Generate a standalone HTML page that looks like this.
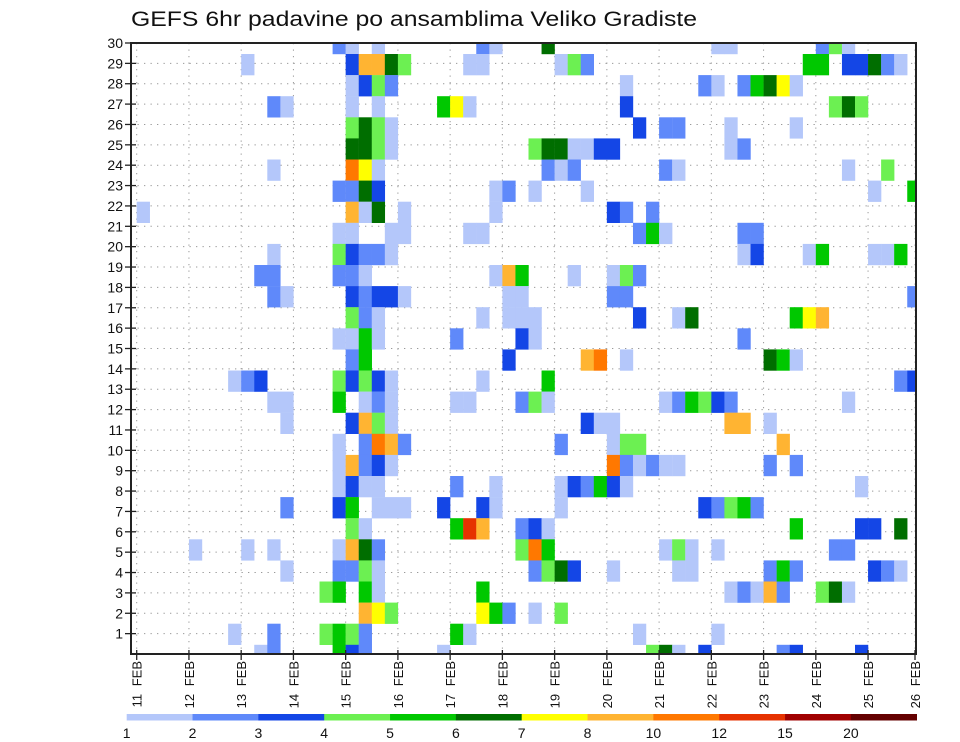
<!DOCTYPE html>
<html><head><meta charset="utf-8"><title>GEFS 6hr padavine</title>
<style>
html,body{margin:0;padding:0;background:#fff;}
svg{display:block;font-family:"Liberation Sans","DejaVu Sans",sans-serif;}
</style></head>
<body>
<svg id="chart" width="960" height="742" viewBox="0 0 960 742">
  <defs><clipPath id="plotClip"><rect x="131" y="43" width="785" height="611"/></clipPath></defs>
  <text x="131" y="26" font-size="21" textLength="566" lengthAdjust="spacingAndGlyphs" fill="#111">GEFS 6hr padavine po ansamblima Veliko Gradiste</text>
  <g id="grid"></g>
  <g id="cells" clip-path="url(#plotClip)"></g>
  <rect x="131" y="43" width="785" height="611" fill="none" stroke="#222" stroke-width="2"/>
  <g id="yaxis"></g>
  <g id="xaxis"></g>
  <g id="colorbar"></g>
</svg>
<script>
const dayLabels = ["11","12","13","14","15","16","17","18","19","20","21","22","23","24","25","26"];
const memberTicks = [1,2,3,4,5,6,7,8,9,10,11,12,13,14,15,16,17,18,19,20,21,22,23,24,25,26,27,28,29,30];
const levels = [1,2,3,4,5,6,7,8,10,12,15,20];
const levelColors = ["#b4c7fa","#5f89fa","#1446e6","#6cf052","#00c800","#006e00","#ffff00","#ffb432","#ff7800","#e63200","#a00000","#640000"];
const memberCells = [
"15:2 16:1 18:1 26:2 27:1 31:6 44:1 45:1 52:2 53:4 54:1",
"8:1 16:3 17:8 18:8 19:6 20:4 25:1 26:1 32:1 33:4 34:2 51:5 52:5 54:3 55:3 56:6 57:2 58:1",
"16:1 17:3 18:4 19:2 37:1 43:2 44:1 46:2 47:5 48:6 49:7 50:1",
"10:2 11:1 16:1 18:1 23:5 24:7 25:1 37:3 53:4 54:6 55:4",
"16:4 17:6 18:4 19:1 38:3 40:2 41:2 45:1 50:1",
"16:6 17:6 18:4 19:1 30:4 31:6 32:6 33:1 34:1 35:3 36:3 45:1 46:2",
"10:1 16:10 17:7 18:1 31:2 32:1 33:2 40:2 41:1 54:1 57:4",
"15:2 16:2 17:6 18:3 27:1 28:2 30:1 34:1 56:1 59:5",
"0:1 16:8 17:1 18:6 20:1 27:1 36:3 37:2 39:2",
"15:1 16:1 19:1 20:1 25:1 26:1 38:2 39:5 40:1 46:2 47:2",
"10:1 15:4 16:3 17:2 18:2 19:1 46:1 47:3 51:1 52:5 56:1 57:1 58:5",
"9:2 10:2 15:2 16:2 17:1 27:1 28:8 29:5 33:1 36:1 37:4 38:2",
"10:2 11:1 16:3 17:2 18:3 19:3 20:1 28:1 29:1 36:2 37:2 59:2",
"16:4 17:2 18:1 26:1 28:1 29:1 30:1 38:3 41:1 42:6 50:5 51:7 52:8",
"15:1 16:1 17:5 18:1 24:2 29:3 30:1 46:2",
"16:2 17:5 28:3 34:8 35:10 37:1 48:6 49:5 50:1",
"7:1 8:2 9:3 15:4 16:3 17:4 18:3 19:1 26:1 31:5 58:2 59:3",
"10:1 11:1 15:5 17:1 18:2 19:1 24:1 25:1 29:2 30:4 31:1 40:1 41:2 42:5 43:4 44:3 45:2 54:1",
"11:1 16:3 17:8 18:4 19:1 34:3 35:1 36:1 45:8 46:8 48:1",
"15:1 17:2 18:10 19:8 20:2 32:2 36:1 37:4 38:4 49:8",
"15:1 16:8 17:2 18:3 19:1 36:10 37:2 38:1 39:2 40:1 41:1 48:2 50:2",
"15:1 16:3 17:1 18:1 24:2 27:1 32:1 33:3 34:2 35:5 36:3 37:1 55:1",
"11:2 15:3 16:5 18:1 19:1 20:1 23:3 26:3 27:1 32:1 43:3 44:2 45:4 46:5 47:2",
"16:4 17:1 24:5 25:12 26:8 29:2 30:3 31:1 50:5 55:3 56:3 58:6",
"4:1 8:1 10:1 15:1 16:8 17:6 18:2 29:4 30:10 31:5 40:1 41:4 42:1 44:1 53:2 54:2",
"11:1 15:2 16:2 17:4 18:1 30:2 31:4 32:6 33:3 36:1 41:1 42:1 48:2 49:5 50:2 56:3 57:2 58:1",
"14:4 15:5 17:5 18:1 26:5 45:1 46:2 47:1 48:8 49:2 52:4 53:6 54:1",
"17:8 18:7 19:4 26:7 27:5 28:2 30:1 32:4",
"7:1 10:2 14:4 15:5 16:4 17:2 24:5 25:1 38:1 44:1",
"9:1 10:2 15:5 16:3 17:2 23:1 39:4 40:6 41:1 43:3 49:2 50:3 55:3"
];

const NS = "http://www.w3.org/2000/svg";
const X0 = 136.7, DAY = 52.24, STEP = DAY / 4;
const PL = 131, PR = 916, PT = 43, PB = 654;
const CELL_TOP = 32.9, CELL_H = 21.1;
function xCol(c){ return X0 + c * STEP; }
function xDay(d){ return Math.min(X0 + d * DAY, 915); }
function yTick(m){ return PB - m * (PB - PT) / 30; }
function yCellRow(k){ return CELL_TOP + k * CELL_H; }
function colorFor(v){ let i = -1; for (let j = 0; j < levels.length; j++) if (v >= levels[j]) i = j; return i < 0 ? null : levelColors[i]; }
function mk(tag, attrs, parent){ const e = document.createElementNS(NS, tag); for (const k in attrs) e.setAttribute(k, attrs[k]); parent.appendChild(e); return e; }

const grid = document.getElementById('grid');
memberTicks.forEach(m => {
  const l = mk('line', {x1: PL, x2: PR, y1: yTick(m), y2: yTick(m), stroke: '#999', 'stroke-width': 1, 'stroke-dasharray': '1.3,5.2'}, grid);
  
  
});
dayLabels.forEach((d, i) => {
  const l = mk('line', {x1: xDay(i), x2: xDay(i), y1: PT, y2: PB, stroke: '#999', 'stroke-width': 1, 'stroke-dasharray': '1.3,5.2'}, grid);
  
  
});

const cells = document.getElementById('cells');
memberCells.forEach((row, k) => {
  row.trim().split(/\s+/).forEach(tok => {
    const parts = tok.split(':');
    const c = +parts[0], v = +parts[1];
    const col = colorFor(v);
    if (!col) return;
    const r = mk('rect', {x: xCol(c), y: yCellRow(k), width: STEP + 0.2, height: CELL_H + 0.2, fill: col}, cells);
    
    
  });
});

const ya = document.getElementById('yaxis');
memberTicks.forEach(m => {
  const t = mk('line', {x1: 125, x2: 136, y1: yTick(m), y2: yTick(m), stroke: '#222', 'stroke-width': 1.3}, ya);
  
  
  const tx = mk('text', {x: 123, y: yTick(m) + 5, 'font-size': 14, 'text-anchor': 'end', fill: '#111'}, ya);
  tx.textContent = String(m);
  
  
});

const xa = document.getElementById('xaxis');
dayLabels.forEach((d, i) => {
  const x = xDay(i);
  const t = mk('line', {x1: x, x2: x, y1: PB - 4, y2: PB + 6, stroke: '#222', 'stroke-width': 1.3}, xa);
  
  
  const tx = mk('text', {x: 0, y: 0, 'font-size': 13, 'text-anchor': 'end', fill: '#111', transform: 'translate(' + (x + 5) + ',' + (PB + 7) + ') rotate(-90)', 'word-spacing': '4'}, xa);
  tx.textContent = d + ' FEB';
  
  
});

const cb = document.getElementById('colorbar');
const CB0 = 126.7, CBW = (916.7 - 126.7) / levels.length;
levels.forEach((lv, i) => {
  const r = mk('rect', {x: CB0 + i * CBW, y: 714, width: CBW + 0.3, height: 6.5, fill: levelColors[i]}, cb);
  
  
  const tx = mk('text', {x: CB0 + i * CBW, y: 738, 'font-size': 14, 'text-anchor': 'middle', fill: '#111'}, cb);
  tx.textContent = String(lv);
  
  
});
</script>
</body></html>
